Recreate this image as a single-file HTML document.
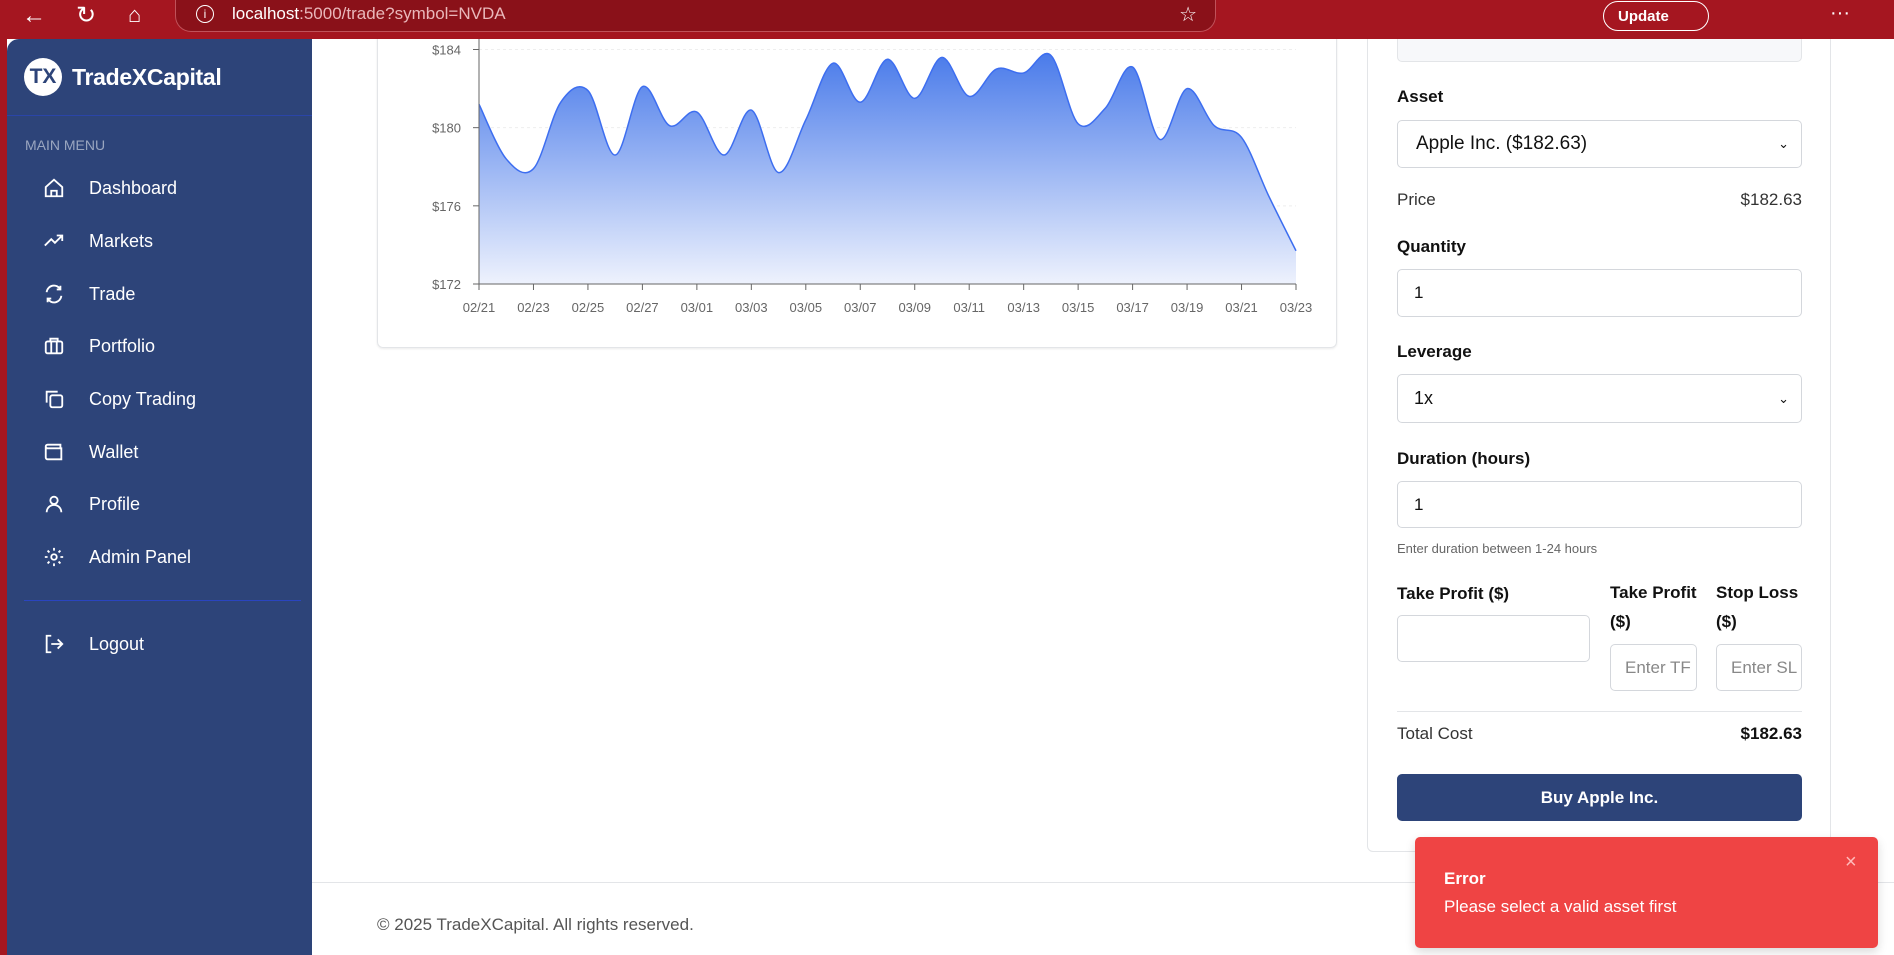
<!DOCTYPE html>
<html><head><meta charset="utf-8">
<style>
*{box-sizing:border-box;margin:0;padding:0}
body{width:1894px;height:955px;overflow:hidden;background:#fff;font-family:"Liberation Sans",sans-serif;position:relative;color:#111}
.abs{position:absolute}
#topbar{left:0;top:0;width:1894px;height:39px;background:#a51620;z-index:5}
#sidebar{left:7px;top:39px;width:305px;height:916px;background:#2d4479;border-top-left-radius:12px}
#leftstrip{left:0;top:39px;width:7px;height:916px;background:#a51620}
.mi{position:absolute;left:36px;color:#fff;font-size:18px;display:flex;align-items:center;gap:24px}
.mi svg{width:22px;height:22px}
.lbl{position:absolute;left:1397px;font-size:17px;font-weight:bold;color:#111}
.box{position:absolute;border:1px solid #d4d7dc;border-radius:5px;background:#fff;font-size:17px;padding-left:16px;display:flex;align-items:center}
</style></head><body>
<div id="topbar" class="abs">
  <div class="abs" style="left:22px;top:2px;color:#fff;font-size:24px">←</div>
  <div class="abs" style="left:76px;top:1px;color:#fff;font-size:24px">↻</div>
  <div class="abs" style="left:128px;top:2px;color:#fff;font-size:22px">⌂</div>
  <div class="abs" style="left:175px;top:0;width:1041px;height:32px;background:#8a1119;border:1px solid #c0525a;border-top:none;border-radius:0 0 16px 16px">
    <div class="abs" style="left:20px;top:5px;width:18px;height:18px;border:1.5px solid #fff;border-radius:50%;color:#fff;font-size:12px;text-align:center;line-height:16px">i</div>
    <div class="abs" style="left:56px;top:4px;color:#fff;font-size:17px">localhost<span style="color:#e9b7ba">:5000/trade?symbol=NVDA</span></div>
    <div class="abs" style="right:18px;top:2px;color:#fff;font-size:20px">☆</div>
  </div>
  <div class="abs" style="left:1603px;top:1px;width:106px;height:30px;border:1.5px solid #fff;border-radius:15px;color:#fff;font-size:15px;font-weight:bold;padding:6px 14px">Update</div>
  <div class="abs" style="left:1830px;top:2px;color:#fff;font-size:20px">···</div>
</div>
<div id="leftstrip" class="abs"></div>
<div id="sidebar" class="abs">
  <div class="abs" style="left:17px;top:19px;width:38px;height:38px;border-radius:50%;background:#fff;color:#2d4479;font-weight:bold;font-size:21px;text-align:center;line-height:38px">TX</div>
  <div class="abs" style="left:65px;top:25px;color:#fff;font-size:23px;font-weight:bold;letter-spacing:-0.3px">TradeXCapital</div>
  <div class="abs" style="left:0;top:76px;width:305px;height:1px;background:#2a45a8"></div>
  <div class="abs" style="left:18px;top:98px;color:#9aa6c0;font-size:14px">MAIN MENU</div>
  <div class="mi" style="top:138px"><svg viewBox="0 0 24 24" fill="none" stroke="#fff" stroke-width="2"><path d="M3 11l9-8 9 8v10H3z M9 21v-6h6v6"/></svg>Dashboard</div>
  <div class="mi" style="top:191px"><svg viewBox="0 0 24 24" fill="none" stroke="#fff" stroke-width="2"><path d="M2 17l7-7 4 4 8-8M15 6h6v6"/></svg>Markets</div>
  <div class="mi" style="top:244px"><svg viewBox="0 0 24 24" fill="none" stroke="#fff" stroke-width="2"><path d="M4 10a8 8 0 0 1 15-3M20 14a8 8 0 0 1-15 3M19 3v4h-4M5 21v-4h4"/></svg>Trade</div>
  <div class="mi" style="top:296px"><svg viewBox="0 0 24 24" fill="none" stroke="#fff" stroke-width="2"><rect x="3" y="7" width="18" height="13" rx="2"/><path d="M8 7V4h8v3M9 7v13M15 7v13"/></svg>Portfolio</div>
  <div class="mi" style="top:349px"><svg viewBox="0 0 24 24" fill="none" stroke="#fff" stroke-width="2"><rect x="8" y="8" width="13" height="13" rx="2"/><path d="M4 16V4h12"/></svg>Copy Trading</div>
  <div class="mi" style="top:402px"><svg viewBox="0 0 24 24" fill="none" stroke="#fff" stroke-width="2"><path d="M19 7V4H5a2 2 0 0 0 0 4h15v12H5a2 2 0 0 1-2-2V6M16 14h.01"/></svg>Wallet</div>
  <div class="mi" style="top:454px"><svg viewBox="0 0 24 24" fill="none" stroke="#fff" stroke-width="2"><circle cx="12" cy="8" r="4"/><path d="M4 21a8 8 0 0 1 16 0"/></svg>Profile</div>
  <div class="mi" style="top:507px"><svg viewBox="0 0 24 24" fill="none" stroke="#fff" stroke-width="2"><circle cx="12" cy="12" r="3"/><path d="M12 2v3M12 19v3M2 12h3M19 12h3M5 5l2 2M17 17l2 2M5 19l2-2M17 7l2-2"/></svg>Admin Panel</div>
  <div class="abs" style="left:17px;top:561px;width:277px;height:1px;background:#2a45c0"></div>
  <div class="mi" style="top:594px"><svg viewBox="0 0 24 24" fill="none" stroke="#fff" stroke-width="2"><path d="M9 3H4v18h5M16 17l5-5-5-5M21 12H9"/></svg>Logout</div>
</div>

<div class="abs" style="left:377px;top:0;width:960px;height:348px;border:1px solid #e3e5e8;border-radius:6px;box-shadow:0 1px 2px rgba(0,0,0,.08)">
<svg id="chart" class="abs" style="left:-377px;top:0" width="1337" height="348"></svg>
</div>

<div class="abs" style="left:1367px;top:0;width:464px;height:852px;border:1px solid #e3e5e8;border-radius:6px"></div>
<div class="abs" style="left:1397px;top:20px;width:405px;height:42px;background:#f7f8fa;border:1px solid #e3e5e8;border-radius:5px"></div>
<div class="lbl" style="top:87px">Asset</div>
<div class="box" style="left:1397px;top:120px;width:405px;height:48px;font-size:19px;padding-left:18px">Apple Inc. ($182.63)<span style="position:absolute;right:12px;font-size:13px">⌄</span></div>
<div class="abs" style="left:1397px;top:190px;font-size:17px;color:#333">Price</div>
<div class="abs" style="left:1702px;width:100px;text-align:right;top:190px;font-size:17px;color:#333">$182.63</div>
<div class="lbl" style="top:237px">Quantity</div>
<div class="box" style="left:1397px;top:269px;width:405px;height:48px">1</div>
<div class="lbl" style="top:342px">Leverage</div>
<div class="box" style="left:1397px;top:374px;width:405px;height:49px;font-size:18px">1x<span style="position:absolute;right:12px;font-size:13px">⌄</span></div>
<div class="lbl" style="top:449px">Duration (hours)</div>
<div class="box" style="left:1397px;top:481px;width:405px;height:47px">1</div>
<div class="abs" style="left:1397px;top:541px;font-size:13px;color:#666">Enter duration between 1-24 hours</div>
<div class="lbl" style="top:584px">Take Profit ($)</div>
<div class="lbl" style="left:1610px;top:578px;line-height:29px">Take Profit<br>($)</div>
<div class="lbl" style="left:1716px;top:578px;line-height:29px">Stop Loss<br>($)</div>
<div class="box" style="left:1397px;top:615px;width:193px;height:47px"></div>
<div class="box" style="left:1610px;top:644px;width:87px;height:47px;color:#888;overflow:hidden;padding-left:14px">Enter TF</div>
<div class="box" style="left:1716px;top:644px;width:86px;height:47px;color:#888;overflow:hidden;padding-left:14px">Enter SL</div>
<div class="abs" style="left:1397px;top:711px;width:405px;height:1px;background:#e3e5e8"></div>
<div class="abs" style="left:1397px;top:724px;font-size:17px;color:#333">Total Cost</div>
<div class="abs" style="left:1702px;width:100px;text-align:right;top:724px;font-size:17px;font-weight:bold">$182.63</div>
<div class="abs" style="left:1397px;top:774px;width:405px;height:47px;background:#2d4479;border-radius:5px;color:#fff;font-weight:bold;font-size:17px;text-align:center;line-height:47px">Buy Apple Inc.</div>

<div class="abs" style="left:312px;top:882px;width:1582px;height:1px;background:#e3e5e8"></div>
<div class="abs" style="left:377px;top:915px;font-size:17px;color:#555">© 2025 TradeXCapital. All rights reserved.</div>

<div class="abs" style="left:1415px;top:837px;width:463px;height:111px;background:#ef4444;border-radius:5px;box-shadow:0 4px 10px rgba(0,0,0,.15)">
  <div class="abs" style="left:29px;top:32px;color:#fff;font-weight:bold;font-size:17px">Error</div>
  <div class="abs" style="left:29px;top:60px;color:#fff;font-size:17px">Please select a valid asset first</div>
  <div class="abs" style="left:430px;top:14px;color:#fbb;font-size:20px">×</div>
</div>

<script>
const dates=["02/21","02/22","02/23","02/24","02/25","02/26","02/27","02/28","03/01","03/02","03/03","03/04","03/05","03/06","03/07","03/08","03/09","03/10","03/11","03/12","03/13","03/14","03/15","03/16","03/17","03/18","03/19","03/20","03/21","03/22","03/23"];
const prices=[181.2,178.4,177.9,181.3,181.9,178.6,182.1,180.1,180.8,178.6,180.9,177.7,180.4,183.3,181.3,183.5,181.5,183.6,181.6,183.0,182.8,183.7,180.2,181.0,183.1,179.4,182.0,180.1,179.5,176.5,173.7];
const yTicks=[172,176,180,184];
const yTickLabels=["$172","$176","$180","$184"];
const NS="http://www.w3.org/2000/svg";
const svg=document.getElementById('chart');
const X0=478,X1=1295,Y0=283,Y1=48.5,VMIN=172,VMAX=184;
const xs=i=>X0+(X1-X0)*i/(dates.length-1);
const ys=v=>Y0-(v-VMIN)/(VMAX-VMIN)*(Y0-Y1);
function mk(t,a){const e=document.createElementNS(NS,t);for(const k in a)e.setAttribute(k,a[k]);svg.appendChild(e);return e;}
const defs=mk('defs',{});
defs.innerHTML='<linearGradient id="g" x1="0" y1="0" x2="0" y2="1"><stop offset="0" stop-color="#4a7bea"/><stop offset="1" stop-color="#eef2fd"/></linearGradient>';
yTicks.forEach((v,i)=>{
  const g=mk('line',{x1:X0,x2:X1,y1:ys(v),y2:ys(v),stroke:'#eee','stroke-dasharray':'3 3'});
  
  
  const t=mk('text',{x:X0-18,y:ys(v)+5,'text-anchor':'end','font-size':'13','fill':'#666','font-family':'Liberation Sans, sans-serif'});
  t.textContent=yTickLabels[i];
  
  
  mk('line',{x1:X0-6,x2:X0,y1:ys(v),y2:ys(v),stroke:'#666'});
});
const pts=prices.map((v,i)=>[xs(i),ys(v)]);
let d='M'+pts[0][0]+','+pts[0][1];
for(let i=0;i<pts.length-1;i++){
  const p0=pts[Math.max(0,i-1)],p1=pts[i],p2=pts[i+1],p3=pts[Math.min(pts.length-1,i+2)];
  const c1=[p1[0]+(p2[0]-p0[0])/6,p1[1]+(p2[1]-p0[1])/6];
  const c2=[p2[0]-(p3[0]-p1[0])/6,p2[1]-(p3[1]-p1[1])/6];
  d+=' C'+c1+' '+c2+' '+p2;
}
const area=mk('path',{d:d+' L'+xs(dates.length-1)+','+Y0+' L'+X0+','+Y0+' Z',fill:'url(#g)'});


const line=mk('path',{d:d,fill:'none',stroke:'#3d6ef0','stroke-width':'1.5'});


mk('line',{x1:X0,x2:X0,y1:Y1-12,y2:Y0,stroke:'#666'});
mk('line',{x1:X0,x2:X1,y1:Y0,y2:Y0,stroke:'#666'});
dates.forEach((dt,i)=>{
  if(i%2) return;
  mk('line',{x1:xs(i),x2:xs(i),y1:Y0,y2:Y0+6,stroke:'#666'});
  const t=mk('text',{x:xs(i),y:Y0+28,'text-anchor':'middle','font-size':'13','fill':'#666','font-family':'Liberation Sans, sans-serif'});
  t.textContent=dt;
  
  
});
</script>
</body></html>
